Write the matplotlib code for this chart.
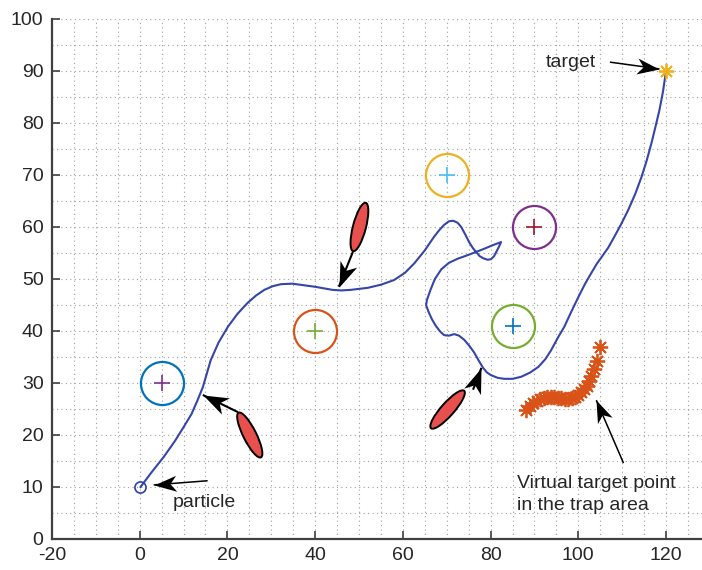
import matplotlib
matplotlib.use("Agg")
import numpy as np
import matplotlib.pyplot as plt
from matplotlib.patches import Ellipse
from matplotlib.path import Path
from matplotlib.markers import MarkerStyle
from matplotlib.transforms import ScaledTranslation
from matplotlib.ticker import MultipleLocator

plt.rcParams['font.family'] = ['Liberation Sans', 'DejaVu Sans']
plt.rcParams['axes.unicode_minus'] = False

# particle trajectory from start to target
path_x = [0.2, 2.5, 5.5, 8.0, 10.0, 11.8, 13.2, 14.4, 15.2, 16.2, 18.0, 20.1, 22.3,
          24.6, 26.5, 28.4, 30.3, 32.2, 34.8, 37.4, 40.0, 42.0, 44.0, 46.0, 48.0,
          50.0, 52.0, 55.0, 58.0, 60.5, 62.6, 65.0, 67.1, 68.3, 69.4, 70.5, 71.5,
          72.5, 73.3, 74.2, 75.1, 76.0, 76.7, 77.5, 78.3, 79.3, 80.1, 80.8, 81.3,
          81.9, 82.4, 80.5, 78.5, 76.7, 74.5, 72.5, 70.5, 68.8, 67.3, 66.3, 65.5,
          65.3, 65.8, 66.6, 67.5, 68.5, 69.4, 70.5, 71.7, 72.8, 74.0, 75.2, 76.3,
          77.3, 78.3, 79.2, 80.1, 81.6, 83.1, 85.0, 87.0, 89.0, 90.9, 92.5, 93.8,
          95.4, 96.8, 98.4, 100.0, 101.5, 103.0, 104.2, 105.3, 106.8, 108.2, 109.8,
          111.4, 113.0, 114.4, 115.6, 116.7, 117.6, 118.5, 119.3, 120.0]
path_y = [10.0, 12.6, 15.8, 18.8, 21.5, 24.0, 26.7, 29.2, 31.5, 34.4, 37.8, 40.8, 43.3,
          45.4, 46.8, 47.9, 48.6, 49.0, 49.1, 48.8, 48.5, 48.2, 47.9, 47.8, 47.9,
          48.1, 48.3, 48.9, 49.8, 51.2, 53.0, 55.5, 58.1, 59.4, 60.4, 61.1, 61.2,
          60.8, 60.0, 58.6, 57.1, 55.9, 55.2, 54.4, 54.0, 53.7, 53.8, 54.4, 55.2,
          56.2, 57.1, 56.5, 55.8, 55.2, 54.5, 53.9, 53.1, 51.9, 50.0, 47.9, 46.0,
          45.0, 43.8, 42.3, 41.0, 39.9, 39.2, 39.1, 39.4, 39.1, 38.3, 37.1, 35.8,
          34.3, 32.9, 32.0, 31.5, 31.0, 30.8, 30.8, 31.2, 32.0, 33.1, 34.6, 36.3,
          38.8, 40.8, 43.7, 46.5, 49.0, 51.2, 52.9, 54.2, 56.0, 58.1, 60.6,
          63.3, 66.4, 69.6, 72.8, 76.2, 79.3, 82.5, 86.0, 90.0]

start = (0, 10)
target = (120, 90)

# circular obstacles: centre, ring colour, centre-mark colour
obs_x = [5, 40, 70, 90, 85]
obs_y = [30, 40, 70, 60, 41]
obs_ring = ['#0072BD', '#D95319', '#EDB120', '#7E2F8E', '#77AC30']
obs_mark = ['#7E2F8E', '#77AC30', '#4DBEEE', '#A2142F', '#0072BD']

# virtual target points inside the trap
virt_x = [88.1, 88.9, 89.7, 90.5, 91.3, 92.1, 92.9, 93.7, 94.5, 95.3, 96.1, 96.9,
          97.7, 98.5, 99.3, 100.0, 100.7, 101.3, 101.9, 102.4, 103.0, 103.6, 104.2, 105.0]
virt_y = [24.8, 25.6, 26.1, 26.5, 26.9, 27.1, 27.3, 27.4, 27.3, 27.2, 27.1, 27.0,
          27.0, 27.1, 27.3, 27.7, 28.2, 28.8, 29.5, 30.3, 31.3, 32.6, 34.3, 36.9]

# moving obstacles (red ellipses): centre, heading angle, arrow start/tip
mob_x = [25.1, 50.1, 70.2]
mob_y = [20.0, 60.0, 24.9]
mob_angle = [116.6, 75.4, 48.5]
mob_arrow_from = [(22.4, 24.4), (48.6, 55.2), (76.0, 28.7)]
mob_arrow_to = [(14.4, 27.7), (45.4, 48.5), (77.9, 32.9)]

fig = plt.figure(figsize=(7.02, 5.70), dpi=100)
ax = fig.add_axes([0.074, 0.0544, 0.926, 0.9123])

ax.set_xlim(-20, 128.2)
ax.set_ylim(0, 100)
ax.xaxis.set_major_locator(MultipleLocator(20))
ax.xaxis.set_minor_locator(MultipleLocator(5))
ax.yaxis.set_major_locator(MultipleLocator(10))
ax.yaxis.set_minor_locator(MultipleLocator(5))
ax.grid(which='both', linestyle=(0, (1, 3)), color='#a0a0a0', linewidth=0.8)
ax.set_axisbelow(True)
for s in ['top', 'right']:
    ax.spines[s].set_visible(False)
for s in ['left', 'bottom']:
    ax.spines[s].set_color('#404040')
    ax.spines[s].set_linewidth(1.6)
ax.tick_params(which='major', direction='in', length=6, width=1.2, color='#404040',
               labelsize=14, labelcolor='#262626', pad=6)
ax.tick_params(which='minor', length=0)

# arrowhead with a swept-back notch, tip at the origin
head_path = Path([(0, 0), (-1, 0.36), (-0.72, 0), (-1, -0.36), (0, 0)],
                 [Path.MOVETO, Path.LINETO, Path.LINETO, Path.LINETO, Path.CLOSEPOLY])


def draw_arrow(p0, p1, lw, head):
    d0 = ax.transData.transform(p0)
    d1 = ax.transData.transform(p1)
    ang = np.degrees(np.arctan2(d1[1] - d0[1], d1[0] - d0[0]))
    ax.plot([p0[0], p1[0]], [p0[1], p1[1]], color='black', lw=lw,
            solid_capstyle='butt', zorder=6)
    ax.plot(p1[0], p1[1], marker=MarkerStyle(head_path).rotated(deg=ang),
            ms=head, color='black', mew=0, zorder=6)


# trajectory and particle
ax.plot(path_x, path_y, color='#3545A8', lw=1.5, zorder=3)
ax.plot(*start, 'o', ms=8, mfc='none', mec='#3040A8', mew=1.2, zorder=4)

# static obstacles
for x, y, rc, mc in zip(obs_x, obs_y, obs_ring, obs_mark):
    ax.plot(x, y, 'o', ms=31, mfc='none', mec=rc, mew=1.6, zorder=3)
    ax.plot(x, y, '+', ms=11, color=mc, mew=1.2, zorder=3)

# target and virtual target points
ax.plot(*target, marker=(8, 2, 0), ms=11, color='#EDB120', mew=1.3, zorder=4)
ax.plot(virt_x, virt_y, ls='none', marker=(8, 2, 0), ms=11, color='#D95319',
        mew=1.3, zorder=4)

# moving obstacles with heading arrows
for x, y, a, p0, p1 in zip(mob_x, mob_y, mob_angle, mob_arrow_from, mob_arrow_to):
    tr = fig.dpi_scale_trans + ScaledTranslation(x, y, ax.transData)
    ax.add_patch(Ellipse((0, 0), 0.50, 0.13, angle=a, transform=tr,
                         facecolor='#E8504D', edgecolor='black', lw=1.4, zorder=5))
    draw_arrow(p0, p1, 1.5, 36)

# labels
draw_arrow((15.5, 11.2), (3.2, 10.4), 1.1, 32)
ax.text(7.5, 7.1, 'particle', fontsize=14, color='#262626', ha='left', va='center')
draw_arrow((107.2, 91.7), (118.5, 90.4), 1.1, 32)
ax.text(92.6, 91.7, 'target', fontsize=14, color='#262626', ha='left', va='center')
draw_arrow((110.3, 14.6), (104.1, 26.7), 1.1, 32)
ax.text(86.1, 8.6, 'Virtual target point\nin the trap area', fontsize=14,
        color='#262626', ha='left', va='center', linespacing=1.4)

fig.savefig('out.png', dpi=100)
